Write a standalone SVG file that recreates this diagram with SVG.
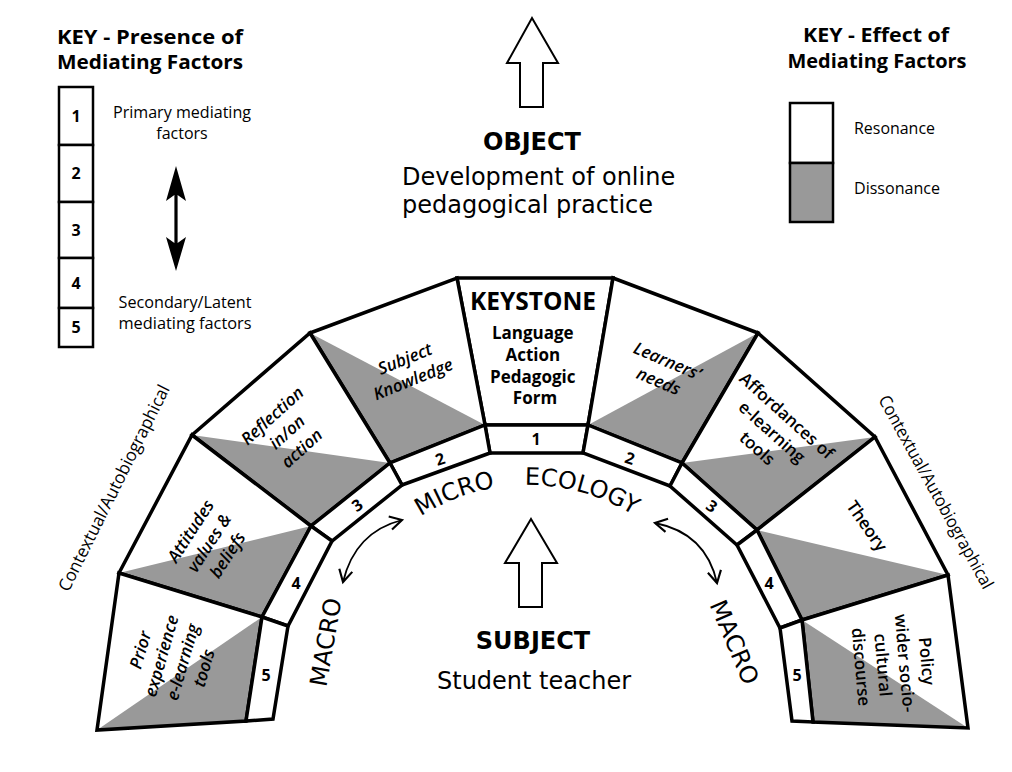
<svg xmlns="http://www.w3.org/2000/svg" width="1012" height="772" viewBox="0 0 1012 772">
<style>
.bg{fill:#fff}
.seg{fill:#fff;stroke:none}
.sh{fill:#999}
.ol{fill:none;stroke:#000;stroke-width:3.5;stroke-linejoin:miter}
.band{fill:#fff;stroke:#000;stroke-width:3.5;stroke-linejoin:miter}
.num{font-family:"Open Sans","Liberation Sans",sans-serif;font-weight:700;font-size:16px;text-anchor:middle}
.lab{font-family:"Open Sans","Liberation Sans",sans-serif;font-weight:600;font-style:italic;font-size:17px;text-anchor:middle}
.labr{font-family:"Open Sans","Liberation Sans",sans-serif;font-weight:600;font-size:17px;text-anchor:middle}
.key{font-family:"Open Sans","Liberation Sans",sans-serif;font-weight:700;font-size:19.5px;text-anchor:middle}
.small{font-family:"Open Sans","Liberation Sans",sans-serif;font-size:16px}
.ctx{font-family:"Open Sans","Liberation Sans",sans-serif;font-size:17.5px;text-anchor:middle}
.vd{font-family:"DejaVu Sans",Verdana,sans-serif;font-size:24px}
.vdb{font-family:"DejaVu Sans",Verdana,sans-serif;font-size:24px;font-weight:700}
.kbox{fill:#fff;stroke:#000;stroke-width:2.5}
.blk{fill:#fff;stroke:#000;stroke-width:2}
.conn{fill:none;stroke:#000;stroke-width:1.8}
</style>
<defs>
<marker id="vhead" viewBox="0 0 12 12" refX="10" refY="6" markerWidth="16" markerHeight="16" markerUnits="userSpaceOnUse" orient="auto-start-reverse">
<path d="M1,1 L10,6 L1,11" fill="none" stroke="#000" stroke-width="1.6"/>
</marker>
<path id="microArc" d="M356.5,584 A198,198 0 0 1 699.5,584" fill="none"/>
</defs>
<rect class="bg" x="0" y="0" width="1012" height="772"/>

<!-- Left key -->
<g id="key-presence">
<text class="key" x="150" y="44" textLength="186" lengthAdjust="spacingAndGlyphs">KEY - Presence of</text>
<text class="key" x="150" y="69" textLength="186" lengthAdjust="spacingAndGlyphs">Mediating Factors</text>
<rect class="kbox" x="59" y="87" width="34" height="58"/>
<rect class="kbox" x="59" y="145" width="34" height="57"/>
<rect class="kbox" x="59" y="202" width="34" height="56"/>
<rect class="kbox" x="59" y="258" width="34" height="50"/>
<rect class="kbox" x="59" y="308" width="34" height="39"/>
<text class="num" x="76" y="122">1</text>
<text class="num" x="76" y="179">2</text>
<text class="num" x="76" y="236">3</text>
<text class="num" x="76" y="289">4</text>
<text class="num" x="76" y="333">5</text>
<text class="small" x="182" y="118" text-anchor="middle" textLength="138" lengthAdjust="spacingAndGlyphs">Primary mediating</text>
<text class="small" x="182" y="139" text-anchor="middle">factors</text>
<path d="M176,166 L186,201 L177.6,195 L177.6,243 L186,237 L176,271 L166,237 L174.4,243 L174.4,195 L166,201 Z" fill="#000"/>
<text class="small" x="185" y="308" text-anchor="middle" textLength="133" lengthAdjust="spacingAndGlyphs">Secondary/Latent</text>
<text class="small" x="185" y="329" text-anchor="middle" textLength="133" lengthAdjust="spacingAndGlyphs">mediating factors</text>
</g>

<!-- Right key -->
<g id="key-effect">
<text class="key" x="876" y="42" textLength="146" lengthAdjust="spacingAndGlyphs">KEY - Effect of</text>
<text class="key" x="877" y="68" textLength="179" lengthAdjust="spacingAndGlyphs">Mediating Factors</text>
<rect x="790" y="103" width="43" height="60" fill="#fff" stroke="#000" stroke-width="2.5"/>
<rect x="790" y="163" width="43" height="59" fill="#999" stroke="#000" stroke-width="2.5"/>
<text class="small" x="854" y="134" textLength="81" lengthAdjust="spacingAndGlyphs">Resonance</text>
<text class="small" x="854" y="194" textLength="86" lengthAdjust="spacingAndGlyphs">Dissonance</text>
</g>

<!-- Object -->
<g id="object">
<path class="blk" d="M532,18 L558,63 L543,63 L543,107 L520,107 L520,63 L507,63 Z"/>
<text class="vdb" x="532" y="150" text-anchor="middle">OBJECT</text>
<text class="vd" x="402" y="185">Development of online</text>
<text class="vd" x="402" y="213">pedagogical practice</text>
</g>

<!-- Subject -->
<g id="subject">
<path class="blk" d="M531,519 L557,563 L542,563 L542,607 L519,607 L519,563 L505,563 Z"/>
<text class="vdb" x="533" y="649" text-anchor="middle" font-size="25">SUBJECT</text>
<text class="vd" x="534" y="689" text-anchor="middle">Student teacher</text>
</g>

<!-- Keystone -->
<g id="keystone">
<polygon class="seg" points="457,278 613,278 588,425 485,425"/>
<polygon class="ol" points="457,278 613,278 588,425 485,425"/>
<polygon class="band" points="485,425 588,425 583,453 490,453"/>
<text class="num" x="536" y="445">1</text>
<text x="533" y="310" font-family="'Open Sans','Liberation Sans',sans-serif" font-weight="700" font-size="25" text-anchor="middle" textLength="126" lengthAdjust="spacingAndGlyphs">KEYSTONE</text>
<text font-family="'Open Sans','Liberation Sans',sans-serif" font-weight="700" font-size="17" text-anchor="middle">
<tspan x="535" y="339">Language</tspan>
<tspan x="535" y="361">Action</tspan>
<tspan x="535" y="383">Pedagogic</tspan>
<tspan x="535" y="404">Form</tspan>
</text>
</g>

<!-- Left segments -->
<g id="left-2">
<polygon class="seg" points="310,333 457,278 485,425 390,463"/>
<polygon class="sh" points="310,333 485,425 390,463"/>
<polygon class="ol" points="310,333 457,278 485,425 390,463"/>
<polygon class="band" points="485,425 490,453 402,485 390,463"/>
<text class="num" transform="translate(440,459) rotate(-18)" y="6">2</text>
<text class="lab" transform="translate(409,369) rotate(-22)"><tspan x="0" y="-5">Subject</tspan><tspan x="0" y="17">Knowledge</tspan></text>
</g>
<g id="left-3">
<polygon class="seg" points="192,435 310,333 390,463 311,526"/>
<polygon class="sh" points="192,435 390,463 311,526"/>
<polygon class="ol" points="192,435 310,333 390,463 311,526"/>
<polygon class="band" points="390,463 402,485 332,541 311,526"/>
<text class="num" transform="translate(357,505) rotate(-35)" y="6">3</text>
<text class="lab" transform="translate(287,432) rotate(-42)"><tspan x="0" y="-16">Reflection</tspan><tspan x="0" y="6">in/on</tspan><tspan x="0" y="28">action</tspan></text>
</g>
<g id="left-4">
<polygon class="seg" points="119,573 192,435 311,526 262,617"/>
<polygon class="sh" points="119,573 311,526 262,617"/>
<polygon class="ol" points="119,573 192,435 311,526 262,617"/>
<polygon class="band" points="311,526 332,541 288,626 262,617"/>
<text class="num" x="296" y="589">4</text>
<text class="lab" transform="translate(209,543) rotate(-57)"><tspan x="0" y="-16">Attitudes</tspan><tspan x="0" y="6">values &amp;</tspan><tspan x="0" y="28">beliefs</tspan></text>
</g>
<g id="left-5">
<polygon class="seg" points="97,730 119,573 262,617 246,721"/>
<polygon class="sh" points="97,730 262,617 246,721"/>
<polygon class="ol" points="97,730 119,573 262,617 246,721"/>
<polygon class="band" points="262,617 288,626 273,719 246,721"/>
<text class="num" x="266" y="681">5</text>
<text class="lab" transform="translate(172,659) rotate(-74)"><tspan x="0" y="-27">Prior</tspan><tspan x="0" y="-5">experience</tspan><tspan x="0" y="17">e-learning</tspan><tspan x="0" y="39">tools</tspan></text>
</g>

<!-- Right segments -->
<g id="right-2">
<polygon class="seg" points="613,278 758,333 682,463 588,425"/>
<polygon class="sh" points="758,333 682,463 588,425"/>
<polygon class="ol" points="613,278 758,333 682,463 588,425"/>
<polygon class="band" points="588,425 682,463 670,486 583,453"/>
<text class="num" transform="translate(630,458) rotate(18)" y="6">2</text>
<text class="lab" transform="translate(663,371) rotate(23)"><tspan x="0" y="-5">Learners’</tspan><tspan x="0" y="17">needs</tspan></text>
</g>
<g id="right-3">
<polygon class="seg" points="758,333 875,437 757,530 682,463"/>
<polygon class="sh" points="875,437 757,530 682,463"/>
<polygon class="ol" points="758,333 875,437 757,530 682,463"/>
<polygon class="band" points="682,463 757,530 737,545 670,486"/>
<text class="num" transform="translate(712,506) rotate(35)" y="6">3</text>
<text class="labr" transform="translate(772,432) rotate(42)"><tspan x="0" y="-16">Affordances of</tspan><tspan x="0" y="6">e-learning</tspan><tspan x="0" y="28">tools</tspan></text>
</g>
<g id="right-4">
<polygon class="seg" points="875,437 948,575 802,620 757,530"/>
<polygon class="sh" points="948,575 802,620 757,530"/>
<polygon class="ol" points="875,437 948,575 802,620 757,530"/>
<polygon class="band" points="757,530 802,620 780,628 737,545"/>
<text class="num" x="769" y="589">4</text>
<text class="labr" transform="translate(867,526) rotate(55)"><tspan x="0" y="6">Theory</tspan></text>
</g>
<g id="right-5">
<polygon class="seg" points="948,575 968,728 813,722 802,620"/>
<polygon class="sh" points="968,728 813,722 802,620"/>
<polygon class="ol" points="948,575 968,728 813,722 802,620"/>
<polygon class="band" points="802,620 813,722 792,721 780,628"/>
<text class="num" x="797" y="681">5</text>
<text class="labr" transform="translate(894,664) rotate(85)"><tspan x="0" y="-27">Policy</tspan><tspan x="0" y="-5">wider socio-</tspan><tspan x="0" y="17">cultural</tspan><tspan x="0" y="39">discourse</tspan></text>
</g>

<!-- Side and ecology labels -->
<g id="labels">
<text class="ctx" transform="translate(114,488) rotate(-63.5)" y="6" textLength="228" lengthAdjust="spacingAndGlyphs">Contextual/Autobiographical</text>
<text class="ctx" transform="translate(936,492) rotate(61)" y="6" textLength="218" lengthAdjust="spacingAndGlyphs">Contextual/Autobiographical</text>
<text class="vd"><textPath href="#microArc" startOffset="94">MICRO</textPath></text>
<text class="vd"><textPath href="#microArc" startOffset="204">ECOLOGY</textPath></text>
<text class="vd" transform="translate(325,642) rotate(-80)" y="9" text-anchor="middle">MACRO</text>
<text class="vd" transform="translate(735,642) rotate(67)" y="9" text-anchor="middle">MACRO</text>
</g>

<!-- Connectors -->
<g id="connectors">
<path class="conn" d="M343,582 Q355,532 402,520" marker-start="url(#vhead)" marker-end="url(#vhead)"/>
<path class="conn" d="M655,523 Q706,533 717,583" marker-start="url(#vhead)" marker-end="url(#vhead)"/>
</g>
</svg>
